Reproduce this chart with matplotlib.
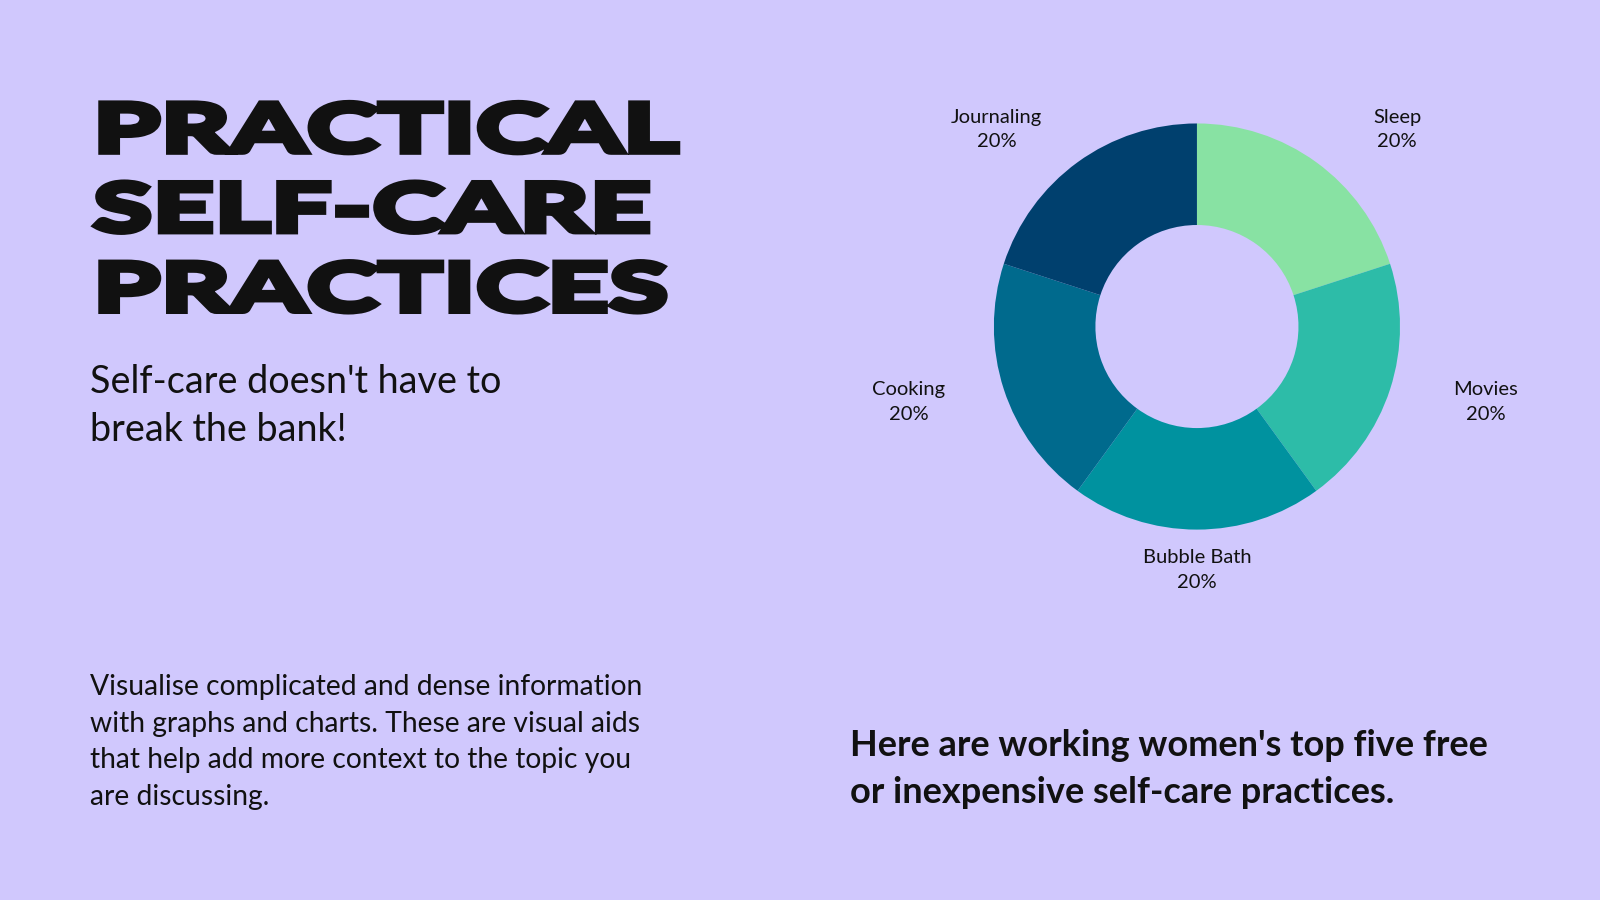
import matplotlib.pyplot as plt
import numpy as np
from matplotlib.patheffects import AbstractPathEffect
from matplotlib.transforms import Affine2D


BG = "#D0C8FD"
INK = "#111111"

practices = ["Sleep", "Movies", "Bubble Bath", "Cooking", "Journaling"]
shares = [20, 20, 20, 20, 20]
colors = ["#88E2A3", "#2DBCA8", "#00929F", "#006A8D", "#00406E"]

title_lines = ["PRACTICAL", "SELF-CARE", "PRACTICES"]
subtitle_lines = ["Self-care doesn't have to", "break the bank!"]
body_lines = [
    "Visualise complicated and dense information",
    "with graphs and charts. These are visual aids",
    "that help add more context to the topic you",
    "are discussing.",
]
callout_lines = [
    "Here are working women's top five free",
    "or inexpensive self-care practices.",
]

# layout is measured on the 1568x882 reference, converted to figure fractions
REF_W, REF_H = 1568, 882


def fx(x):
    return x / REF_W


def fy(y):
    return 1 - y / REF_H


class HeavyWide(AbstractPathEffect):
    """Widen glyphs around the text origin and fatten them with an outline,
    to imitate the extended black display face of the original."""

    def __init__(self, sx, lw):
        super().__init__()
        self.sx = sx
        self.lw = lw

    def draw_path(self, renderer, gc, tpath, affine, rgbFace=None):
        x0 = affine.get_matrix()[0, 2]
        stretch = Affine2D().translate(-x0, 0).scale(self.sx, 1).translate(x0, 0)
        gc0 = renderer.new_gc()
        gc0.copy_properties(gc)
        gc0.set_linewidth(self.lw)
        gc0.set_foreground(rgbFace)
        gc0.set_joinstyle("miter")
        renderer.draw_path(gc0, tpath, affine + stretch, rgbFace)
        gc0.restore()


fig = plt.figure(figsize=(16, 9), dpi=100, facecolor=BG)

# title
title_texts = []
for i, line in enumerate(title_lines):
    t = fig.text(fx(91), fy(149 + 78 * i), line, fontsize=48.5, fontweight=900,
                 family="Lato", color=INK, ha="left", va="baseline")
    title_texts.append(t)

fig.canvas.draw()
renderer = fig.canvas.get_renderer()
natural = title_texts[0].get_window_extent(renderer).width
target = (666 - 91) / REF_W * fig.get_figwidth() * fig.dpi
for t in title_texts:
    t.set_path_effects([HeavyWide(target / natural, 4)])

for i, line in enumerate(subtitle_lines):
    fig.text(fx(88), fy(385 + 47 * i), line, fontsize=27.2, family="Lato",
             color=INK, ha="left", va="baseline")

for i, line in enumerate(body_lines):
    fig.text(fx(88), fy(681 + 36 * i), line, fontsize=20.3, family="Lato",
             color=INK, ha="left", va="baseline")

for i, line in enumerate(callout_lines):
    fig.text(fx(833), fy(741 + 46 * i), line, fontsize=26, family="Lato",
             fontweight="bold", color=INK, ha="left", va="baseline")

# donut
cx, cy, r_px, half = 1173, 320, 199, 300
ax = fig.add_axes([fx(cx - half), fy(cy + half), 2 * half / REF_W, 2 * half / REF_H])
ax.set_facecolor("none")
wedges, _ = ax.pie(shares, colors=colors, startangle=90, counterclock=False,
                   radius=1, wedgeprops=dict(width=0.5, linewidth=0))
lim = half / r_px
ax.set_xlim(-lim, lim)
ax.set_ylim(-lim, lim)
ax.set_aspect("equal")
ax.axis("off")

for w, name, value in zip(wedges, practices, shares):
    mid = np.deg2rad((w.theta1 + w.theta2) / 2)
    c, s = np.cos(mid), np.sin(mid)
    x = 1.2 * c + 0.28 * np.sign(np.round(c, 6))
    ax.text(x, 1.2 * s, f"{name}\n{value}%",
            ha="center", va="center", fontsize=14.5, family="Lato",
            color=INK, linespacing=1.55, clip_on=False)

fig.savefig("out.png", dpi=100, facecolor=BG)
